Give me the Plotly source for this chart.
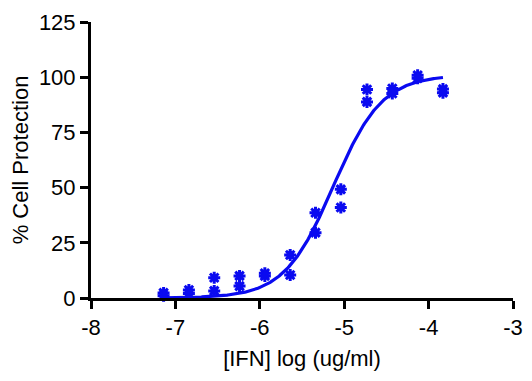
import numpy as np
import plotly.graph_objects as go

# Data (log concentration, % cell protection), duplicates per dilution
log_conc = [-7.14, -6.84, -6.54, -6.24, -5.94, -5.64, -5.34, -5.04, -4.73, -4.43, -4.13, -3.83]
rep1 = [2.3, 3.6, 9.2, 10.0, 11.2, 19.5, 38.6, 49.2, 94.4, 94.9, 100.9, 94.6]
rep2 = [1.0, 2.0, 3.2, 5.4, 10.0, 10.4, 29.6, 41.0, 88.8, 92.6, 99.5, 93.0]

# 4PL fit parameters
fit_bottom = 0.0
fit_top = 101.0
fit_logec50 = -5.13
fit_hill = 1.5

x_ticks = [-8, -7, -6, -5, -4, -3]
y_ticks = [0, 25, 50, 75, 100, 125]

blue = "rgb(10,10,240)"

xs = np.linspace(min(log_conc), max(log_conc), 300)
ys = fit_bottom + (fit_top - fit_bottom) / (1 + 10 ** ((fit_logec50 - xs) * fit_hill))

fig = go.Figure()
fig.add_trace(go.Scatter(x=xs, y=ys, mode="lines", line=dict(color=blue, width=3.2),
                         cliponaxis=False, hoverinfo="skip"))
fig.add_trace(go.Scatter(x=log_conc + log_conc, y=rep1 + rep2, mode="markers",
                         marker=dict(symbol="asterisk-open", size=10, color=blue,
                                     line=dict(color=blue, width=3)),
                         cliponaxis=False))

font_family = "Liberation Sans, Arial, sans-serif"
fig.update_layout(
    width=532, height=381,
    margin=dict(l=83, r=27, t=14, b=91),
    paper_bgcolor="white", plot_bgcolor="white",
    showlegend=False,
    font=dict(family=font_family, size=22, color="black"),
    xaxis=dict(range=[-8, -3], tickvals=x_ticks, ticktext=[str(v) for v in x_ticks],
               automargin=False,
               showline=True, linewidth=3, linecolor="black", showgrid=False, zeroline=False,
               ticks="outside", ticklen=8, tickwidth=3, tickcolor="black",
               tickfont=dict(size=22),
               title=dict(text="[IFN] log (ug/ml)", font=dict(size=22), standoff=12)),
    yaxis=dict(range=[0, 125], tickvals=y_ticks, ticktext=[str(v) for v in y_ticks],
               automargin=False,
               showline=True, linewidth=3, linecolor="black", showgrid=False, zeroline=False,
               ticks="outside", ticklen=8, tickwidth=3, tickcolor="black",
               tickfont=dict(size=22),
               title=dict(text="% Cell Protection", font=dict(size=22), standoff=6)),
)

fig.write_html("out.html")
